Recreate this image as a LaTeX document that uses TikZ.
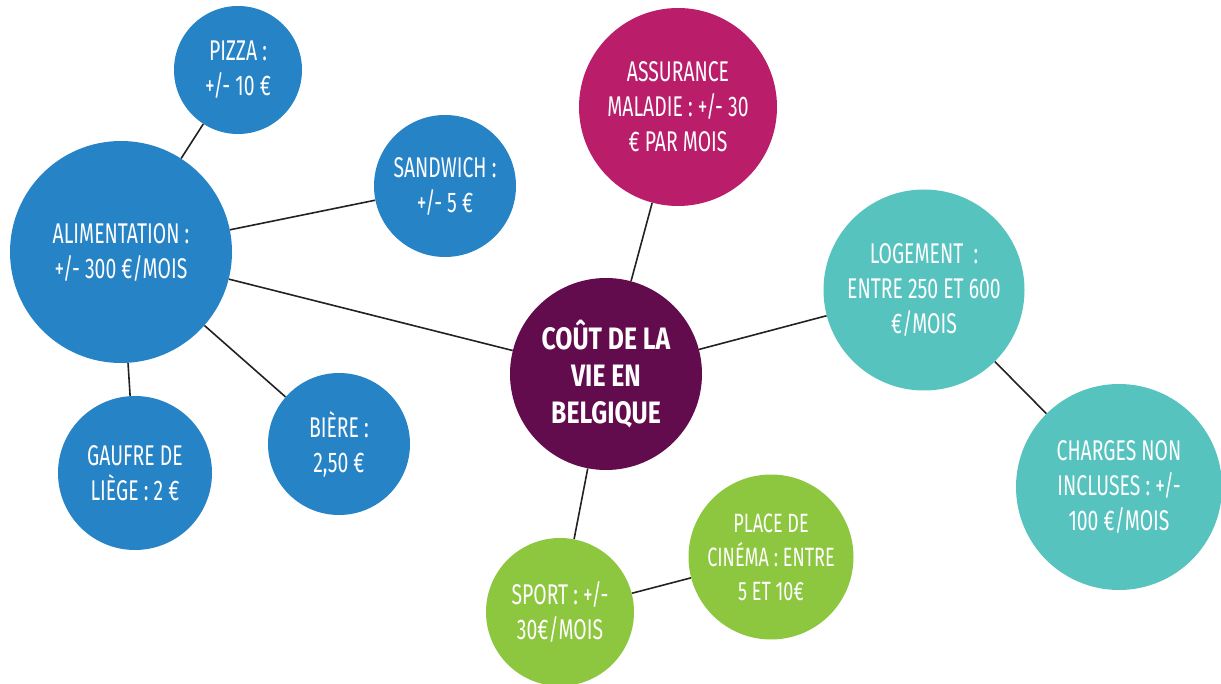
\documentclass[tikz,border=0pt]{standalone}
\usepackage{fontspec}
\setmainfont{Fira Sans}[FakeStretch=0.68]
\newfontfamily\hubfont{Fira Sans}[FakeStretch=0.8]
\usetikzlibrary{backgrounds}
\definecolor{blueC}{HTML}{2683C6}
\definecolor{magC}{HTML}{BA1E6B}
\definecolor{purpC}{HTML}{620B4D}
\definecolor{tealC}{HTML}{56C3BF}
\definecolor{greenC}{HTML}{8DC63F}
\definecolor{lineC}{HTML}{222222}
\tikzset{
  x=1pt, y=-1pt,
  bub/.style={circle, inner sep=0pt, text=white, align=center,
    font=\fontsize{28.5}{35}\selectfont},
  link/.style={draw=lineC, line width=1.6pt}
}
\begin{document}
\begin{tikzpicture}
\useasboundingbox (0,0) rectangle (1221,684);
\node[bub, fill=blueC, minimum size=128pt] (pizza) at (238,70) {PIZZA :\\+/- 10 €};
\node[bub, fill=blueC, minimum size=222pt] (alim) at (121,252) {ALIMENTATION :\\+/- 300 €/MOIS};
\node[bub, fill=blueC, minimum size=142pt] (sand) at (445,186) {SANDWICH :\\+/- 5 €};
\node[bub, fill=blueC, minimum size=154pt] (gauf) at (135,473) {GAUFRE DE\\LIÈGE : 2 €};
\node[bub, fill=blueC, minimum size=142pt] (biere) at (339,444) {BIÈRE :\\2,50 €};
\node[bub, fill=purpC, minimum size=192pt, font=\hubfont\fontsize{31}{37}\selectfont\bfseries] (center) at (606,374) {COÛT DE LA\\VIE EN\\BELGIQUE};
\node[bub, fill=magC, minimum size=198pt] (assur) at (678,107) {ASSURANCE\\MALADIE : +/- 30\\€ PAR MOIS};
\node[bub, fill=tealC, minimum size=201pt] (loge) at (924,290) {LOGEMENT \ :\\ENTRE 250 ET 600\\€/MOIS};
\node[bub, fill=tealC, minimum size=206pt] (charg) at (1119,487) {CHARGES NON\\INCLUSES : +/-\\100 €/MOIS};
\node[bub, fill=greenC, minimum size=148pt] (sport) at (560,612) {SPORT : +/-\\30€/MOIS};
\node[bub, fill=greenC, minimum size=165pt, font=\fontsize{26.5}{34}\selectfont] (cine) at (771,557) {PLACE DE\\CINÉMA : ENTRE\\5 ET 10€};
\begin{scope}[on background layer]
\draw[link] (pizza) -- (alim);
\draw[link] (alim) -- (sand);
\draw[link] (alim) -- (center);
\draw[link] (alim) -- (gauf);
\draw[link] (alim) -- (biere);
\draw[link] (assur) -- (center);
\draw[link] (center) -- (loge);
\draw[link] (loge) -- (charg);
\draw[link] (center) -- (sport);
\draw[link] (sport) -- (cine);
\end{scope}
\end{tikzpicture}
\end{document}
